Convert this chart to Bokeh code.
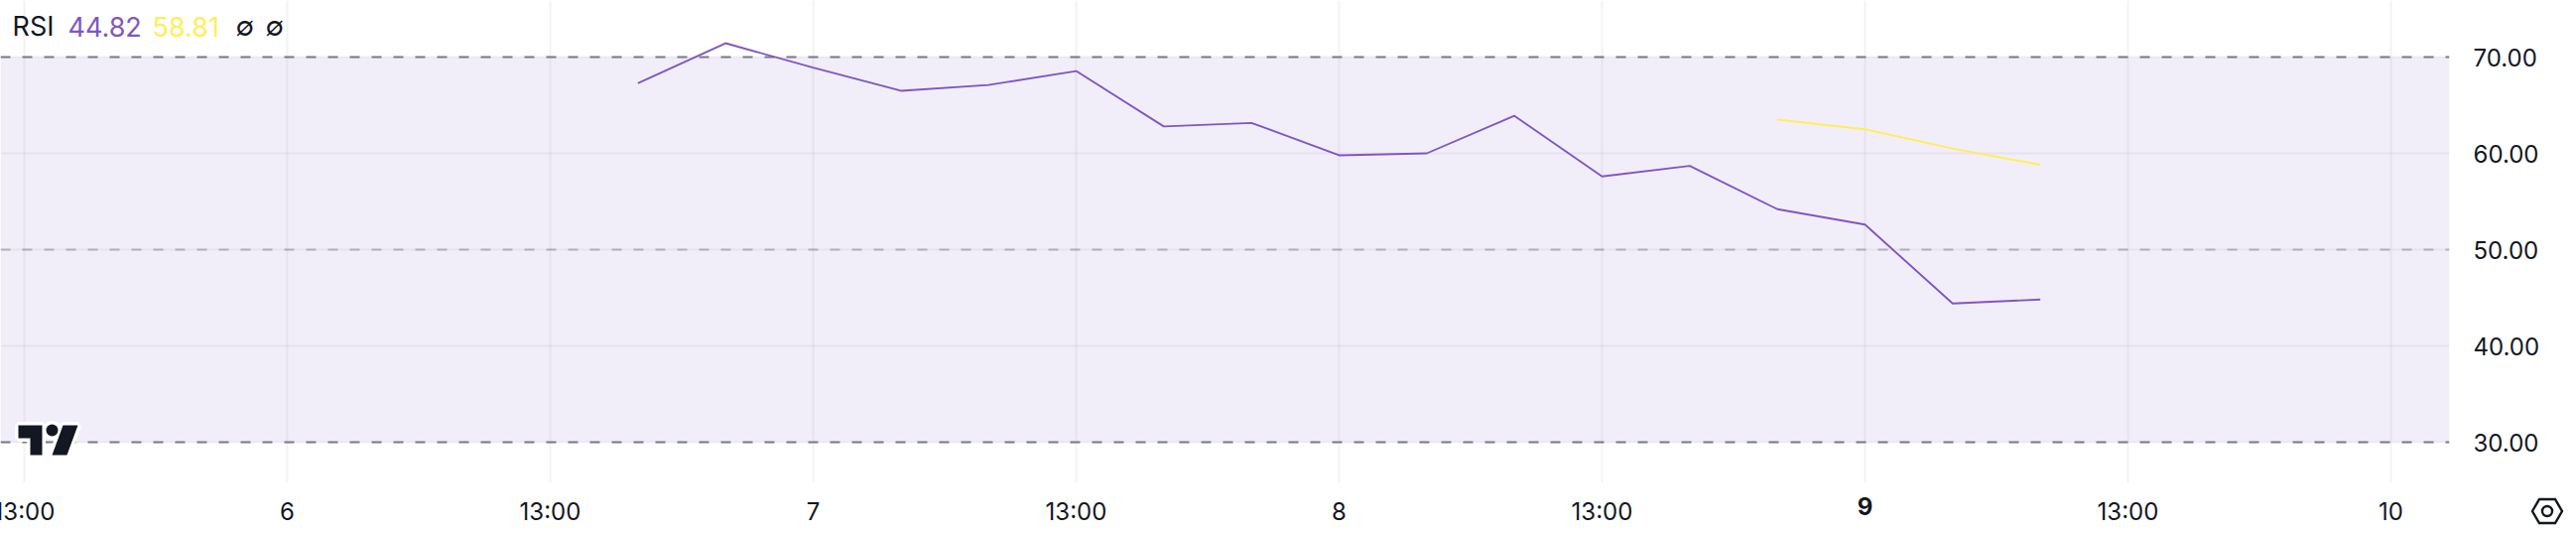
import math
from bokeh.plotting import figure
from bokeh.embed import file_html
from bokeh.resources import INLINE
from bokeh.models import (BoxAnnotation, Span, Label, PolyAnnotation, FixedTicker,
                          Range1d, LinearAxis, Div)

# ---- data ----
rsi_index = [7, 8, 9, 10, 11, 12, 13, 14, 15, 16, 17, 18, 19, 20, 21, 22, 23]
rsi_values = [67.29, 71.44, 68.9, 66.5, 67.1, 68.55, 62.8, 63.16, 59.8, 60.0,
              63.9, 57.6, 58.7, 54.2, 52.6, 44.4, 44.82]
ma_index = [20, 21, 22, 23]
ma_values = [63.5, 62.5, 60.5, 58.81]
x_ticks = [0, 3, 6, 9, 12, 15, 18, 21, 24, 27]
x_labels = ["13:00", "6", "13:00", "7", "13:00", "8", "13:00", "", "13:00", "10"]
bold_tick = (21, "9")
y_ticks = [30, 40, 50, 60, 70]
y_labels = ["30.00", "40.00", "50.00", "60.00", "70.00"]
upper, middle, lower = 70, 50, 30
legend_items = [("RSI", 12, "#131722"), ("44.82", 68, "#7E57C2"), ("58.81", 153, "#FFEE58"),
                ("∅", 237, "#131722"), ("∅", 267, "#131722")]

FONT = "Inter"
FS = "24px"
W, H = 2596, 538
FW, FH = 2468, 486
PAD = 40   # canvas extends left of the page so the first tick label is cut off there
STEP = 265 / 3
PX_PER_UNIT = 9.7

p = figure(width=W + PAD, height=H, output_backend="svg", toolbar_location=None,
           x_range=Range1d(-24 / STEP, (FW - 24) / STEP),
           y_range=Range1d(70 - (FH - 57) / PX_PER_UNIT, 70 + 57 / PX_PER_UNIT),
           x_axis_location="below", y_axis_location="right",
           min_border_left=PAD, min_border_top=0, min_border_right=W - FW, min_border_bottom=H - FH)
p.margin = (0, 0, 0, -PAD)
p.outline_line_color = None
p.background_fill_color = "#FFFFFF"
p.border_fill_color = "#FFFFFF"

# axes
bold_axis = LinearAxis(ticker=FixedTicker(ticks=[bold_tick[0]]),
                       major_label_overrides={bold_tick[0]: bold_tick[1]},
                       major_label_text_font_style="bold", major_label_standoff=-38)
p.add_layout(bold_axis, "below")
p.xaxis[0].ticker = FixedTicker(ticks=x_ticks)
p.xaxis[0].major_label_overrides = dict(zip(x_ticks, x_labels))
p.yaxis.ticker = FixedTicker(ticks=y_ticks)
p.yaxis.major_label_overrides = dict(zip(y_ticks, y_labels))
for ax in (p.xaxis[0], bold_axis, p.yaxis[0]):
    ax.axis_line_color = None
    ax.major_tick_line_color = None
    ax.minor_tick_line_color = None
    ax.major_label_text_font = FONT
    ax.major_label_text_font_size = FS
    ax.major_label_text_color = "#131722"
p.yaxis.major_label_standoff = 18
p.xaxis[0].major_label_standoff = 8
p.xgrid.ticker = FixedTicker(ticks=x_ticks)
p.ygrid.ticker = FixedTicker(ticks=y_ticks)
for g in (p.xgrid[0], p.ygrid[0]):
    g.grid_line_color = "#2A2E39"
    g.grid_line_alpha = 0.06
    g.grid_line_width = 2

# RSI band and levels
p.add_layout(BoxAnnotation(top=upper, bottom=lower, fill_color="#7E57C2", fill_alpha=0.1,
                           line_color=None, level="underlay"))
for loc, alpha in ((upper, 1.0), (middle, 0.5), (lower, 1.0)):
    p.add_layout(Span(location=loc, dimension="width", line_color="#787B86", line_alpha=alpha,
                      line_width=2, line_dash="10 12", level="underlay"))

# series
p.line(rsi_index, rsi_values, line_color="#7E57C2", line_width=1.9)
p.line(ma_index, ma_values, line_color="#FFEE58", line_width=1.9)

# legend
for txt, px, col in legend_items:
    p.add_layout(Label(x=px, y=FH - 26, x_units="screen", y_units="screen", text=txt,
                       text_font=FONT, text_font_size="27px", text_color=col,
                       text_align="left", text_baseline="middle"))

# logo (decoration, page pixels)
def poly(xs, ys, fill="#131722", line=None, lw=0):
    return PolyAnnotation(xs=xs, ys=[FH - y for y in ys], xs_units="screen", ys_units="screen",
                          fill_color=fill, fill_alpha=1.0, line_color=line, line_alpha=1.0, line_width=lw)

t_x = [18, 42, 42, 30, 30, 18]
t_y = [428, 428, 458, 458, 441, 441]
s_x = [63, 78, 67, 52]
s_y = [428, 428, 458, 458]
d_x = [52 + 6 * math.cos(i * math.pi / 8) for i in range(16)]
d_y = [433 + 6 * math.sin(i * math.pi / 8) for i in range(16)]
for xs, ys in ((t_x, t_y), (s_x, s_y), (d_x, d_y)):
    p.add_layout(poly(xs, ys, fill="#FFFFFF", line="#FFFFFF", lw=7))
for xs, ys in ((t_x, t_y), (s_x, s_y), (d_x, d_y)):
    p.add_layout(poly(xs, ys))

# settings icon as an inline drawing placed over the canvas, since annotations are clipped to the frame
icon_svg = ('<svg xmlns="http://www.w3.org/2000/svg" width="38" height="32" viewBox="0 0 38 32" '
            'style="display:block">'
            '<path d="M4 16 L11 4 L27 4 L34 16 L27 28 L11 28 Z" fill="none" stroke="#131722" stroke-width="2.4"/>'
            '<circle cx="19" cy="16" r="5" fill="none" stroke="#131722" stroke-width="2.4"/></svg>')
icon = Div(text=icon_svg, width=38, height=32, margin=0,
           styles={"position": "absolute", "left": f"{PAD + 2548}px", "top": "499px", "z-index": "10"})
p.elements = [icon]

open("out.html", "w").write(file_html(p, INLINE))
